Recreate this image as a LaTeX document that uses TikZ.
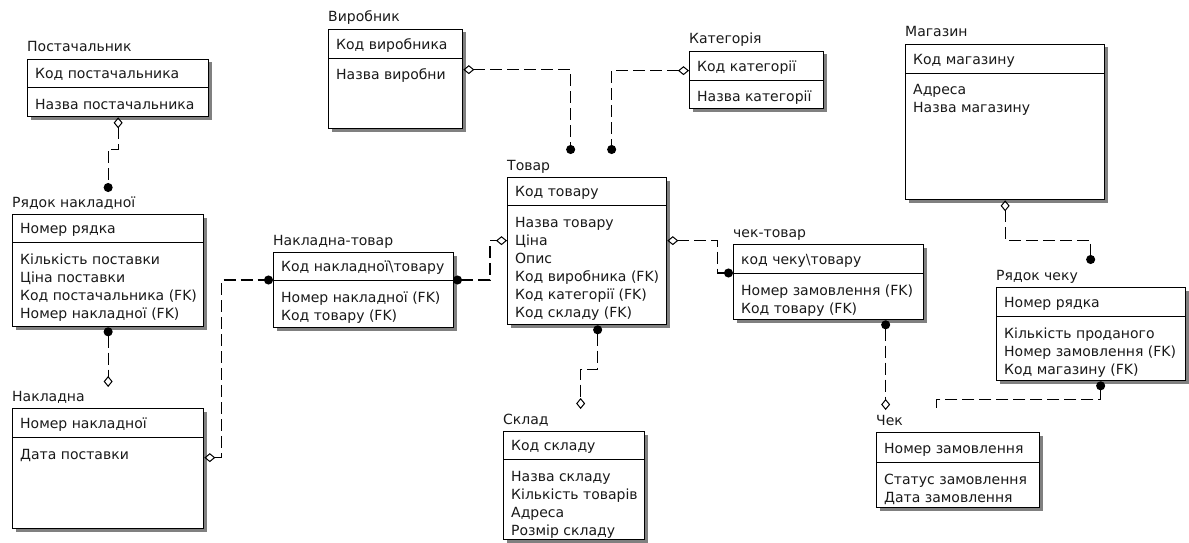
\documentclass[tikz,border=0pt]{standalone}
\usepackage{fontspec}
\setmainfont{DejaVu Sans}
\usetikzlibrary{arrows.meta}
\newcommand{\erfont}{\fontsize{14}{16}\selectfont}
\tikzset{
  ebox/.style={draw=black, line width=1.3pt, fill=white, inner sep=0pt, anchor=north west},
  shad/.style={fill=black!50},
  ttl/.style={anchor=base west, inner sep=0pt, font=\erfont, text=black!90},
  txt/.style={anchor=base west, inner sep=0pt, font=\erfont, text=black!90},
  rel/.style={line width=1.2pt, dash pattern=on 12pt off 5pt},
  dd/.style={arrows={Diamond[open,length=11pt,width=9pt,line width=1pt]-Circle[length=9pt]}},
  cd/.style={arrows={Circle[length=9pt]-Diamond[open,length=11pt,width=9pt,line width=1pt]}},
  dn/.style={arrows={Circle[length=9pt]-}}
}
% #1 id, #2 x1, #3 y1, #4 x2, #5 y2, #6 divider y, #7 title, #8 key, #9 attributes
\newcommand{\ent}[9]{%
  \fill[shad] (#2+3.5,#3+3.5) rectangle (#4+3.5,#5+3.5);
  \node[ebox, minimum width={#4-#2}, minimum height={#5-#3}] (#1) at (#2,#3) {};
  \coordinate (#1-d) at (#2,#6);
  \coordinate (#1-de) at (#4,#6);
  \draw[line width=0.9pt] (#1-d) -- (#1-de);
  \node[ttl] (#1-t) at (#2,#3-7) {#7};
  \node[txt] (#1-k) at (#2+8,#6-8.5) {#8};
  \foreach \a [count=\i] in {#9} {\node[txt] (#1-a\i) at (#2+8,#6+4+18*\i) {\a};}
}
\begin{document}
\begin{tikzpicture}[x=1pt,y=-1pt]
\useasboundingbox (0,0) rectangle (1189,543);
\ent{postach}{27}{59}{208}{116}{87}{Постачальник}{Код постачальника}{Назва постачальника}
\ent{ryadnak}{12}{214}{203}{326}{242}{Рядок накладної}{Номер рядка}{Кількість поставки,Ціна поставки,Код постачальника (FK),Номер накладної (FK)}
\ent{naklad}{12}{408}{203}{528}{437}{Накладна}{Номер накладної}{Дата поставки}
\ent{naktov}{273}{252}{453}{327}{280}{Накладна-товар}{Код накладної\textbackslash{}товару}{Номер накладної (FK),Код товару (FK)}
\ent{vyrob}{328}{29}{462}{128}{58}{Виробник}{Код виробника}{Назва виробни}
\ent{kateg}{689}{51}{823}{108}{80}{Категорія}{Код категорії}{Назва категорії}
\ent{tovar}{507}{177}{666}{324}{205}{Товар}{Код товару}{Назва товару,Ціна,Опис,Код виробника (FK),Код категорії (FK),Код складу (FK)}
\ent{sklad}{503}{431}{644}{539}{459}{Склад}{Код складу}{Назва складу,Кількість товарів,Адреса,Розмір складу}
\ent{chektov}{733}{244}{923}{319}{273}{чек-товар}{код чеку\textbackslash{}товару}{Номер замовлення (FK),Код товару (FK)}
\ent{chek}{876}{432}{1039}{507}{462}{Чек}{Номер замовлення}{Статус замовлення,Дата замовлення}
\ent{ryadchek}{996}{287}{1185}{380}{316}{Рядок чеку}{Номер рядка}{Кількість проданого,Номер замовлення (FK),Код магазину (FK)}
\ent{magaz}{905}{44}{1104}{199}{73}{Магазин}{Код магазину}{Адреса,Назва магазину}
% connectors
\draw[rel,dd] (postach.south) -- ++(0,32) -| ([yshift=22pt]ryadnak.north);
\draw[rel,cd] (ryadnak.south) -- ([yshift=21pt]naklad.north);
\draw[rel,dd] ([yshift=11pt]naklad.east) -- ++(17,0) |- (naktov-d);
\draw[rel,cd] (naktov-de) -- ++(37,0) |- ([yshift=10.5pt]tovar.west);
\draw[rel,dd] ([yshift=10.5pt]tovar.east) -- ++(50,0) |- (chektov-d);
\draw[rel,cd] ([xshift=57pt]chektov.south) -- ([xshift=-72.5pt,yshift=22pt]chek.north);
\draw[rel,dn] ([xshift=9.5pt]ryadchek.south) -- ++(0,18) -| ([xshift=-21.5pt,yshift=20pt]chek.north);
\draw[rel,dd] (magaz.south) -- ++(0,40) -| ([xshift=-0.5pt,yshift=23pt]ryadchek.north);
\draw[rel,dd] ([yshift=9.5pt]vyrob.east) -| ([xshift=-16.5pt,yshift=23pt]tovar.north);
\draw[rel,dd] ([yshift=9.5pt]kateg.west) -| ([xshift=24.5pt,yshift=23pt]tovar.north);
\draw[rel,cd] ([xshift=10.5pt]tovar.south) -- ++(0,44) -| ([xshift=6.5pt,yshift=22pt]sklad.north);
\end{tikzpicture}
\end{document}
